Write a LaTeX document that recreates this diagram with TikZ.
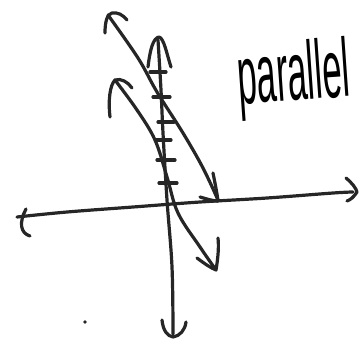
\documentclass[tikz,border=0pt]{standalone}
\usepackage{fontspec}
\setmainfont{Liberation Sans}
\begin{document}
\begin{tikzpicture}[x=1pt,y=-1pt,
  pen/.style={line width=3.2pt,line cap=round,line join=round,color=black!85}]
\useasboundingbox (0,0) rectangle (359,341);
% x-axis
\draw[pen] plot[smooth,tension=0.6] coordinates {(17,217) (67,212) (133,207) (200,202) (267,198) (333,193) (353,192)};
\draw[pen] (26,209) .. controls (19,222) and (20,233) .. (30,236);
\draw[pen] (346,178) .. controls (352,183) and (356,188) .. (357,192) .. controls (354,197) and (350,200) .. (347,201);
% y-axis
\draw[pen] plot[smooth,tension=0.6] coordinates {(158,40) (161,90) (163,133) (167,200) (172,267) (173,334)};
\draw[pen] (148,67) .. controls (150,50) and (153,38) .. (159,37) .. controls (164,38) and (167,55) .. (171,67);
\draw[pen] (162,320) .. controls (163,330) and (167,336) .. (173,337) .. controls (180,336) and (185,330) .. (186,322);
% ticks
\foreach \yy/\xa/\xb in {72/150/166, 97/153/170, 122/158/174, 140/156/171, 160/157/175, 183/159/177}
  \draw[pen] (\xa,\yy) -- (\xb,\yy);
% line 1
\draw[pen] plot[smooth,tension=0.6] coordinates {(108,15) (138,58) (157,92) (183,133) (203,168) (218,200)};
\draw[pen] (105,33) .. controls (105,22) and (107,14) .. (112,13) .. controls (118,12) and (123,15) .. (127,20);
\draw[pen] (213,173) .. controls (215,183) and (217,193) .. (218,201);
\draw[pen] (200,197) .. controls (207,199) and (213,201) .. (218,201);
% line 2
\draw[pen] plot[smooth,tension=0.6] coordinates {(115,80) (137,110) (155,140) (167,177) (178,213) (200,247) (216,270)};
\draw[pen] (110,117) .. controls (108,100) and (110,85) .. (115,80) .. controls (121,78) and (128,82) .. (132,88);
\draw[pen] (197,258) .. controls (205,264) and (211,268) .. (216,270) .. controls (218,258) and (219,247) .. (218,238);
% stray dot
\fill[black!85] (85,322) circle (1.8);
% label
\node[inner sep=0pt,rotate=4] (lbl) at (294,79) {\resizebox{112pt}{60pt}{parallel}};
\end{tikzpicture}
\end{document}
